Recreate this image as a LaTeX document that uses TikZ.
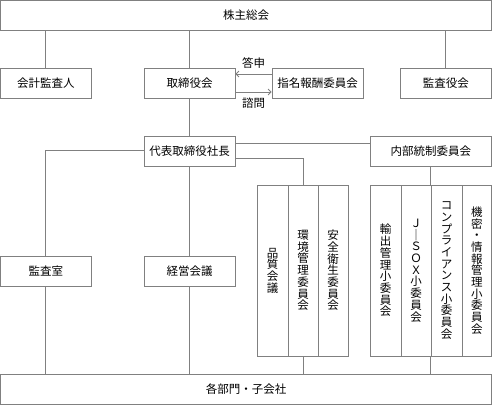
\documentclass[tikz,border=0pt]{standalone}
\usepackage{fontspec}
\setmainfont{Noto Sans CJK JP}
\usetikzlibrary{arrows.meta}
\begin{document}
\begin{tikzpicture}[x=1pt,y=-1pt,
		line/.style={draw=black!50, line width=0.8pt},
		box/.style={line, rectangle, inner sep=0pt, minimum height=30.5pt, font=\fontsize{11.5}{13}\selectfont},
		tate/.style={line, rectangle, inner sep=0pt, minimum height=171pt, align=center, font=\fontsize{11.5}{11.7}\selectfont},
		lbl/.style={inner sep=0pt, font=\fontsize{11.5}{13}\selectfont},
		arr/.style={line, -{Straight Barb[length=3pt,width=6pt]}}]
			\useasboundingbox (0,0) rectangle (492,405);
			\node [box, minimum width=491pt, minimum height=30pt] (kabunushi) at (246,15) {株主総会};
			\node [box, minimum width=90.5pt] (kaikei) at (45.75,83.5) {会計監査人};
			\node [box, minimum width=91pt] (torishimari) at (189.5,83.5) {取締役会};
			\node [box, minimum width=91pt] (shimei) at (317.5,83.5) {指名報酬委員会};
			\node [box, minimum width=91.5pt] (kansayaku) at (445.75,83.5) {監査役会};
			\node [box, minimum width=91pt, minimum height=30pt] (daihyo) at (189.5,151) {代表取締役社長};
			\node [box, minimum width=121.5pt, minimum height=30pt] (naibu) at (430.75,151) {内部統制委員会};
			\node [box, minimum width=90.5pt, minimum height=30pt] (kansashitsu) at (45.75,271) {監査室};
			\node [box, minimum width=91pt, minimum height=30pt] (keiei) at (189.5,271) {経営会議};
			\node [tate, minimum width=31pt] (hinshitsu) at (272.5,270.5) {品\\質\\会\\議};
			\node [tate, minimum width=30pt] (kankyo) at (303,270.5) {環\\境\\管\\理\\委\\員\\会};
			\node [tate, minimum width=30pt] (anzen) at (333,270.5) {安\\全\\衛\\生\\委\\員\\会};
			\node [tate, minimum width=31pt] (yushutsu) at (385.5,270.5) {輸\\出\\管\\理\\小\\委\\員\\会};
			\node [tate, minimum width=30pt] (jsox) at (416,270.5) {Ｊ\\｜\\Ｓ\\Ｏ\\Ｘ\\小\\委\\員\\会};
			\node [tate, minimum width=31pt] (compliance) at (446.5,270.5) {コ\\ン\\プ\\ラ\\イ\\ア\\ン\\ス\\小\\委\\員\\会};
			\node [tate, minimum width=29.5pt] (kimitsu) at (476.75,270.5) {機\\密\\・\\情\\報\\管\\理\\小\\委\\員\\会};
			\node [box, minimum width=491pt, minimum height=30.5pt] (kakubumon) at (246,389.25) {各部門・子会社};
			\node [lbl] (toshin) at (253.5,63) {答申};
			\node [lbl] (shimon) at (253.5,103.5) {諮問};
			\draw [line] (kaikei.north) -- (kaikei.north |- kabunushi.south);
			\draw [line] (torishimari.north) -- (torishimari.north |- kabunushi.south);
			\draw [line] (kansayaku.north) -- (kansayaku.north |- kabunushi.south);
			\draw [arr] ([yshift=9.5pt]shimei.west) -- ([yshift=9.5pt]torishimari.east);
			\draw [arr] ([yshift=-8.5pt]torishimari.east) -- ([yshift=-8.5pt]shimei.west);
			\draw [line] (torishimari.south) -- (daihyo.north);
			\draw [line] ([yshift=1pt]daihyo.west) -| (kansashitsu.north);
			\draw [line] ([yshift=7.5pt]daihyo.east) -- ([yshift=7.5pt]daihyo.east -| naibu.west);
			\draw [line] ([yshift=-7.5pt]daihyo.east) -| (kankyo.north);
			\draw [line] (naibu.south) -- (naibu.south |- compliance.north);
			\draw [line] (daihyo.south) -- (keiei.north);
			\draw [line] (kansashitsu.south) -- (kansashitsu.south |- kakubumon.north);
			\draw [line] (keiei.south) -- (keiei.south |- kakubumon.north);
			\draw [line] (kankyo.south) -- (kankyo.south |- kakubumon.north);
			\draw [line] (compliance.south west) -- (compliance.south west |- kakubumon.north);
		\end{tikzpicture}
\end{document}
